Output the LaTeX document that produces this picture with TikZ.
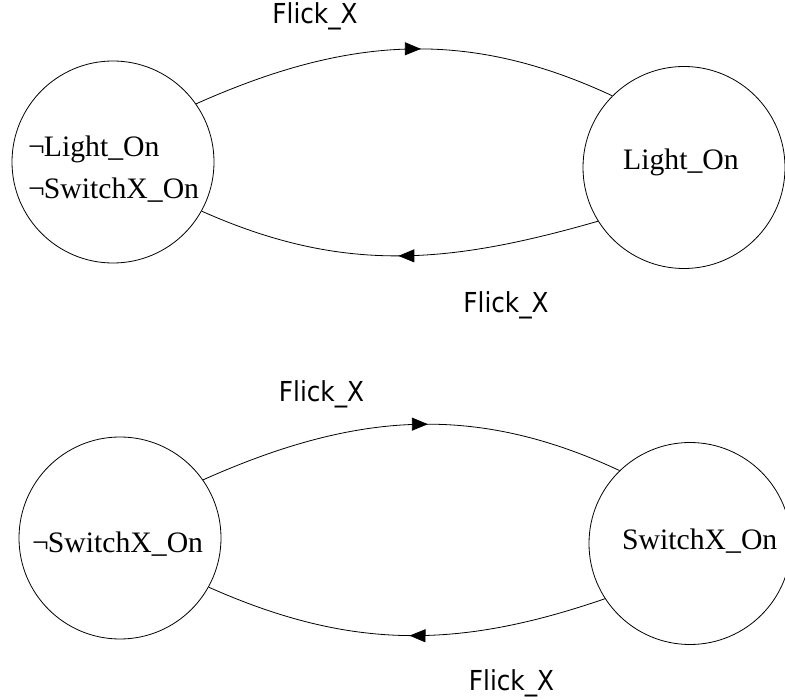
\documentclass[tikz,border=0pt]{standalone}
\usepackage{fontspec}
\setmainfont{Liberation Serif}
\newfontfamily\lblfont{DejaVu Sans Condensed}
\usetikzlibrary{arrows.meta,decorations.markings}
\begin{document}
\begin{tikzpicture}[x=1pt,y=1pt,
  state/.style={circle,draw,line width=0.8pt,minimum size=202pt,inner sep=0pt},
  stxt/.style={inner sep=0pt,anchor=base west,font=\fontsize{29.7}{34}\selectfont},
  lbl/.style={inner sep=0pt,anchor=base,font=\lblfont\fontsize{27.5}{32}\selectfont},
  trans/.style={line width=0.8pt,postaction={decorate},
    decoration={markings,mark=at position #1 with {\arrow{Triangle[length=16pt,width=13pt]}}}},
  trans/.default=0.5
]
\useasboundingbox (0,0) rectangle (785,-700);
% top pair
\node[state] (nl) at (113,-162) {};
\node[state] (l)  at (684,-167.5) {};
\node[stxt] (nlt1) at (28,-157) {¬\kern-1pt Light\_On};
\node[stxt] (nlt2) at (28,-199) {¬\kern-1pt SwitchX\_On};
\node[stxt] (lt) at (623,-170) {Light\_On};
\draw[trans=0.54] (nl.35) to[out=24,in=155] (l.135);
\draw[trans=0.5] (l.212) to[out=196,in=336] (nl.-29);
\node[lbl] (f1) at (315,-24) {Flick\_X};
\node[lbl] (f2) at (506,-313) {Flick\_X};
% bottom pair
\node[state] (ns) at (120,-538) {};
\node[state] (s)  at (690,-543.5) {};
\node[stxt] (nst) at (32,-552) {¬\kern-1pt SwitchX\_On};
\node[stxt] (st) at (622,-549) {SwitchX\_On};
\draw[trans=0.54] (ns.35) to[out=24,in=155] (s.134);
\draw[trans=0.49] (s.213) to[out=199,in=336] (ns.-29);
\node[lbl] (f3) at (321.5,-402) {Flick\_X};
\node[lbl] (f4) at (511.5,-690) {Flick\_X};
\end{tikzpicture}
\end{document}
